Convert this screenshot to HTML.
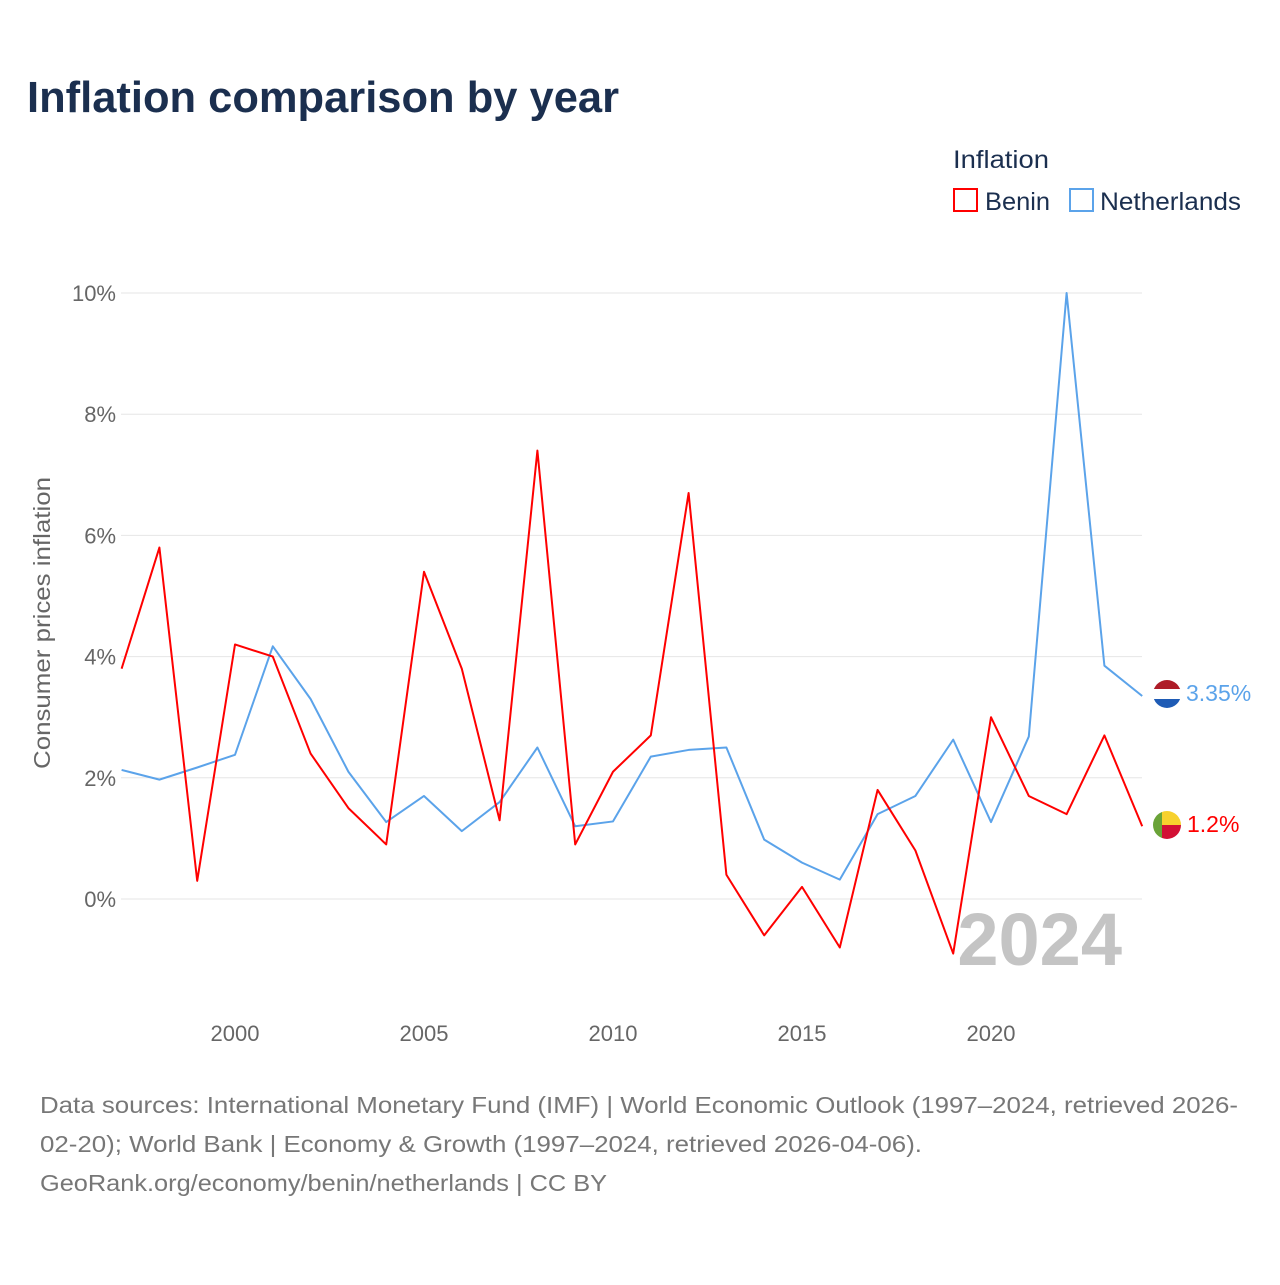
<!DOCTYPE html>
<html><head><meta charset="utf-8">
<style>
body{margin:0;background:#fff;width:1280px;height:1280px;overflow:hidden;font-family:"Liberation Sans",sans-serif;}
svg text{font-family:"Liberation Sans",sans-serif;}
</style></head>
<body>
<svg id="chart" width="1280" height="1280" xmlns="http://www.w3.org/2000/svg">
<text x="27" y="112" font-size="44" font-weight="bold" fill="#1b2f4f" textLength="592" lengthAdjust="spacingAndGlyphs">Inflation comparison by year</text>
<text x="953" y="168" font-size="25" fill="#1b2f4f" textLength="96" lengthAdjust="spacingAndGlyphs">Inflation</text>
<g><rect x="954" y="189" width="23" height="22" fill="none" stroke="#ff0000" stroke-width="2"/><text x="985" y="210" font-size="25" fill="#1b2f4f" textLength="65" lengthAdjust="spacingAndGlyphs">Benin</text></g>
<g><rect x="1070" y="189" width="23" height="22" fill="none" stroke="#5ba3ea" stroke-width="2"/><text x="1100" y="210" font-size="25" fill="#1b2f4f" textLength="141" lengthAdjust="spacingAndGlyphs">Netherlands</text></g>
<g id="grid"></g>
<g id="xticks"></g>
<text transform="translate(50,623) rotate(-90)" text-anchor="middle" font-size="23" fill="#666" textLength="292" lengthAdjust="spacingAndGlyphs">Consumer prices inflation</text>
<text x="1122" y="965" text-anchor="end" font-size="74" font-weight="bold" fill="#c4c4c4">2024</text>
<g id="series"></g>
<g>
<clipPath id="c1"><circle cx="1167" cy="694" r="14"/></clipPath>
<g clip-path="url(#c1)"><rect x="1150" y="679" width="34" height="10" fill="#ae1c28"/><rect x="1150" y="689" width="34" height="10" fill="#fff"/><rect x="1150" y="699" width="34" height="12" fill="#1e5bb5"/></g></g>
<text x="1186" y="701" font-size="23" fill="#5ba3ea">3.35%</text>
<g>
<clipPath id="c2"><circle cx="1167" cy="825" r="14"/></clipPath>
<g clip-path="url(#c2)"><rect x="1150" y="808" width="12" height="34" fill="#6aa338"/><rect x="1162" y="808" width="22" height="17" fill="#f7d12e"/><rect x="1162" y="825" width="22" height="17" fill="#d21034"/></g></g>
<text x="1187" y="832" font-size="23" fill="#ff0000">1.2%</text>
<g font-size="23" fill="#777">
<text x="40" y="1113" textLength="1198" lengthAdjust="spacingAndGlyphs">Data sources: International Monetary Fund (IMF) | World Economic Outlook (1997–2024, retrieved 2026-</text>
<text x="40" y="1152" textLength="882" lengthAdjust="spacingAndGlyphs">02-20); World Bank | Economy &amp; Growth (1997–2024, retrieved 2026-04-06).</text>
<text x="40" y="1191" textLength="567" lengthAdjust="spacingAndGlyphs">GeoRank.org/economy/benin/netherlands | CC BY</text></g>
</svg>
<script>
const years=[1997,1998,1999,2000,2001,2002,2003,2004,2005,2006,2007,2008,2009,2010,2011,2012,2013,2014,2015,2016,2017,2018,2019,2020,2021,2022,2023,2024];
const benin=[3.8,5.8,0.3,4.2,4.0,2.4,1.5,0.9,5.4,3.8,1.3,7.4,0.9,2.1,2.7,6.7,0.4,-0.6,0.2,-0.8,1.8,0.8,-0.9,3.0,1.7,1.4,2.7,1.2];
const netherlands=[2.13,1.97,2.17,2.38,4.17,3.3,2.1,1.27,1.7,1.12,1.6,2.5,1.2,1.28,2.35,2.46,2.5,0.98,0.6,0.32,1.4,1.7,2.63,1.27,2.68,10.0,3.85,3.35];
const yTicks=[0,2,4,6,8,10];
const yTickLabels=["0%","2%","4%","6%","8%","10%"];
const xTicks=[2000,2005,2010,2015,2020];
const NS="http://www.w3.org/2000/svg";
function xs(y){return 121.6+(y-1997)*37.8;}
function ys(v){return 899-v*60.6;}
const grid=document.getElementById('grid');
yTicks.forEach((t,i)=>{
const l=document.createElementNS(NS,'line');


l.setAttribute('x1',121);l.setAttribute('x2',1142);l.setAttribute('y1',ys(t));l.setAttribute('y2',ys(t));
l.setAttribute('stroke','#e6e6e6');l.setAttribute('stroke-width','1');grid.appendChild(l);
const tx=document.createElementNS(NS,'text');


tx.setAttribute('x',116);tx.setAttribute('y',ys(t)+8);tx.setAttribute('text-anchor','end');
tx.setAttribute('font-size','22');tx.setAttribute('fill','#666');tx.textContent=yTickLabels[i];grid.appendChild(tx);
});
const xt=document.getElementById('xticks');
xTicks.forEach(t=>{
const tx=document.createElementNS(NS,'text');


tx.setAttribute('x',xs(t));tx.setAttribute('y',1041);tx.setAttribute('text-anchor','middle');
tx.setAttribute('font-size','22');tx.setAttribute('fill','#666');tx.textContent=t;xt.appendChild(tx);
});
const sg=document.getElementById('series');
function line(vals,color,name){
const p=document.createElementNS(NS,'polyline');


p.setAttribute('points',vals.map((v,i)=>xs(years[i])+','+ys(v)).join(' '));
p.setAttribute('fill','none');p.setAttribute('stroke',color);p.setAttribute('stroke-width','2');
p.setAttribute('stroke-linejoin','round');sg.appendChild(p);
}
line(netherlands,'#5ba3ea','netherlands-line');
line(benin,'#ff0000','benin-line');
</script>
</body></html>
